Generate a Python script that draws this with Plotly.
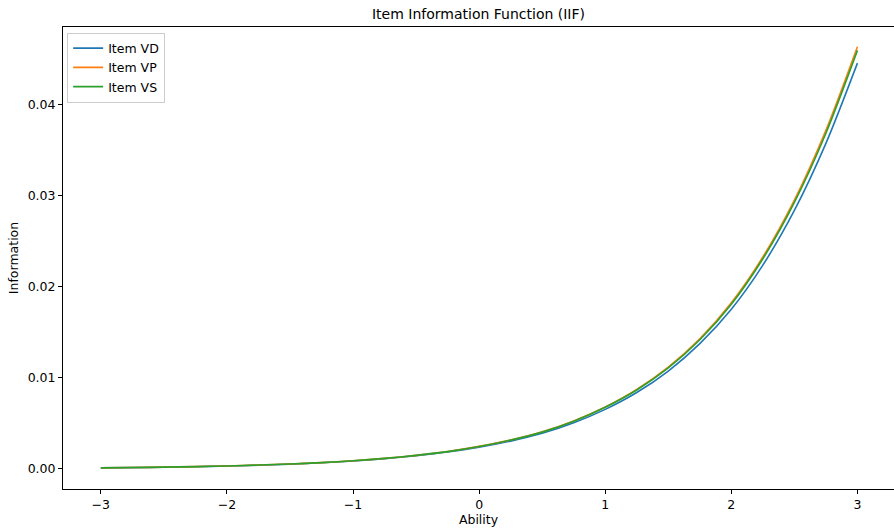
import plotly.graph_objects as go

ability = [-3.0, -2.75, -2.5, -2.25, -2.0, -1.75, -1.5, -1.25, -1.0, -0.75, -0.5, -0.25,
           0.0, 0.25, 0.5, 0.75, 1.0, 1.25, 1.5, 1.75, 2.0, 2.25, 2.5, 2.75, 3.0]

item_vd = [0.00012, 0.00015, 0.00019, 0.00025, 0.00032, 0.00041, 0.00053, 0.00068, 0.00087,
           0.00112, 0.00145, 0.00186, 0.00240, 0.00306, 0.00392, 0.00508, 0.00655, 0.00840,
           0.01076, 0.01377, 0.01755, 0.02240, 0.02841, 0.03578, 0.04460]
item_vp = [0.00012, 0.00016, 0.00020, 0.00026, 0.00033, 0.00043, 0.00055, 0.00070, 0.00090,
           0.00116, 0.00150, 0.00192, 0.00248, 0.00318, 0.00408, 0.00528, 0.00682, 0.00875,
           0.01120, 0.01430, 0.01826, 0.02330, 0.02955, 0.03722, 0.04640]
item_vs = [0.00012, 0.00016, 0.00020, 0.00026, 0.00033, 0.00043, 0.00055, 0.00070, 0.00090,
           0.00116, 0.00150, 0.00191, 0.00247, 0.00317, 0.00405, 0.00525, 0.00678, 0.00868,
           0.01110, 0.01420, 0.01810, 0.02310, 0.02930, 0.03690, 0.04600]

series = [("Item VD", item_vd, "#1f77b4"), ("Item VP", item_vp, "#ff7f0e"), ("Item VS", item_vs, "#2ca02c")]

fig = go.Figure()
for name, vals, color in series:
    fig.add_trace(go.Scatter(x=ability, y=vals, mode="lines", name=name,
                             line=dict(color=color, width=1.6, shape="spline", smoothing=0.8,
                                       simplify=False)))

font = "DejaVu Sans, sans-serif"
axis_common = dict(showline=True, linecolor="black", linewidth=1, mirror=True,
                   ticks="outside", ticklen=4, tickcolor="black", showgrid=False,
                   zeroline=False, tickfont=dict(family=font, size=12.5, color="black"))

fig.update_layout(
    width=894, height=530,
    margin=dict(l=63, r=0, t=27, b=41),
    plot_bgcolor="white", paper_bgcolor="white",
    title=dict(text="Item Information Function (IIF)", x=0.5, xref="paper", xanchor="center",
               y=1 - 14 / 530, yanchor="middle", font=dict(family=font, size=14, color="black")),
    xaxis=dict(range=[-3.3, 3.29], tickvals=[-3, -2, -1, 0, 1, 2, 3],
               title=dict(text="Ability", font=dict(family=font, size=12.5, color="black"), standoff=3),
               **axis_common),
    yaxis=dict(range=[-0.0022, 0.04857], tickvals=[0, 0.01, 0.02, 0.03, 0.04], tickformat=".2f",
               title=dict(text="Information", font=dict(family=font, size=12.5, color="black"), standoff=6),
               **axis_common),
    legend=dict(x=0.005, y=0.988, xanchor="left", yanchor="top", bgcolor="rgba(255,255,255,0.8)",
                bordercolor="#cccccc", borderwidth=1, font=dict(family=font, size=12.5, color="black"),
                tracegroupgap=0),
    showlegend=True,
)

fig.write_html("out.html")
